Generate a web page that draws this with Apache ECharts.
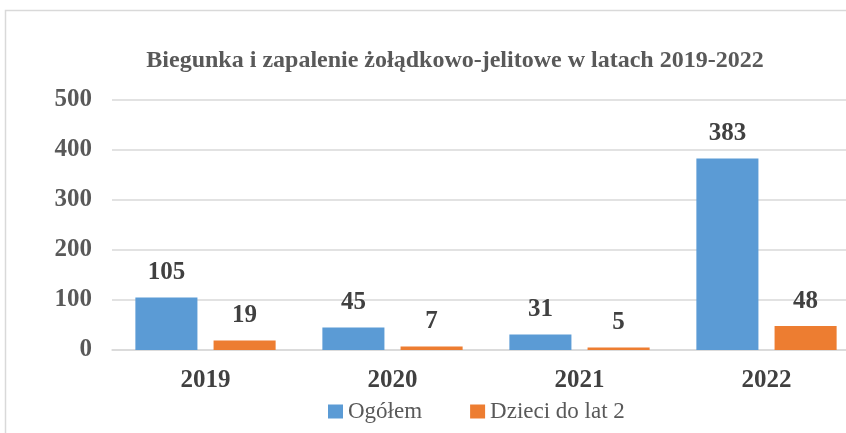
<!DOCTYPE html>
<html><head><meta charset="utf-8">
<script src="https://cdn.jsdelivr.net/npm/echarts@6/dist/echarts.min.js"></script>
<style>html,body{margin:0;padding:0;background:#fff}#c{width:846px;height:433px}</style>
</head><body><div id="c"></div>
<script>
const title = 'Biegunka i zapalenie żołądkowo-jelitowe w latach 2019-2022';
const categories = ['2019', '2020', '2021', '2022'];
const seriesNames = ['Ogółem', 'Dzieci do lat 2'];
const ogolem = [105, 45, 31, 383];
const dzieci = [19, 7, 5, 48];
const yTicks = [0, 100, 200, 300, 400, 500];

const serif = 'Liberation Serif';
const chart = echarts.init(document.getElementById('c'));
const lbl = {show: true, position: 'top', distance: 12, fontFamily: serif, fontWeight: 'bold', fontSize: 25, color: '#404040'};
chart.setOption({
  animation: false,
  textStyle: {fontFamily: serif},
  graphic: [{type: 'rect', shape: {x: 5.5, y: 10.5, width: 900, height: 500}, style: {fill: 'none', stroke: '#d9d9d9', lineWidth: 1.5}, silent: true}],
  title: {text: title, left: 450, top: 44, textAlign: 'center', textStyle: {fontFamily: serif, fontWeight: 'bold', fontSize: 24, color: '#595959'}},
  legend: {top: 395, left: 323, itemWidth: 15, itemHeight: 14, itemGap: 48, icon: 'rect',
    textStyle: {fontFamily: serif, fontSize: 23, color: '#595959'}, data: seriesNames},
  grid: {left: 112, width: 748, top: 100, height: 250, outerBoundsMode: 'none', containLabel: false},
  xAxis: {type: 'category', data: categories,
    axisLine: {lineStyle: {color: '#d9d9d9', width: 1.5}}, axisTick: {show: false},
    axisLabel: {fontFamily: serif, fontWeight: 'bold', fontSize: 25, color: '#404040', margin: 18}},
  yAxis: {type: 'value', min: yTicks[0], max: yTicks[yTicks.length-1], interval: 100,
    axisLine: {show: false}, axisTick: {show: false},
    splitLine: {lineStyle: {color: '#d9d9d9', width: 1.5}},
    axisLabel: {fontFamily: serif, fontWeight: 'bold', fontSize: 25, color: '#595959', margin: 20}},
  series: [
    {name: seriesNames[0], type: 'bar', data: ogolem, itemStyle: {color: '#5b9bd5'}, barGap: '26%', barCategoryGap: '25%', label: lbl},
    {name: seriesNames[1], type: 'bar', data: dzieci, itemStyle: {color: '#ed7d31'}, label: lbl}
  ]
});
</script></body></html>
